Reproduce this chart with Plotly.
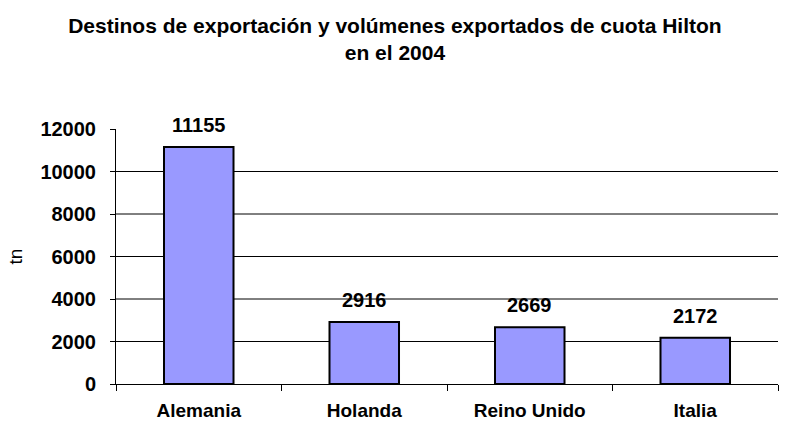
import plotly.graph_objects as go

categories = ["Alemania", "Holanda", "Reino Unido", "Italia"]
values = [11155, 2916, 2669, 2172]
y_ticks = [0, 2000, 4000, 6000, 8000, 10000, 12000]
y_tick_labels = ["0", "2000", "4000", "6000", "8000", "10000", "12000"]
grid_values = [2000, 4000, 6000, 8000, 10000]

FONT = "Arial, Liberation Sans, sans-serif"

fig = go.Figure()
fig.add_trace(go.Bar(
    x=categories, y=values,
    marker=dict(color="#9999FF", line=dict(color="black", width=2)),
    width=0.42,
))

for c, v in zip(categories, values):
    fig.add_annotation(x=c, y=v, text=f"<b>{v}</b>", showarrow=False,
                       yanchor="bottom", yshift=9,
                       font=dict(family=FONT, size=20, color="black"))

shapes = []
for g in grid_values:
    shapes.append(dict(type="line", xref="paper", yref="y", x0=0, x1=1, y0=g, y1=g,
                       line=dict(color="black", width=1), layer="below"))

fig.update_layout(
    width=793, height=423,
    margin=dict(l=116, r=15, t=129, b=39, autoexpand=False),
    paper_bgcolor="white", plot_bgcolor="white",
    showlegend=False,
    shapes=shapes,
    title=dict(
        text="<b>Destinos de exportación y volúmenes exportados de cuota Hilton<br>en el 2004</b>",
        x=0.498, xanchor="center", y=0.923, yanchor="top", yref="container",
        font=dict(family=FONT, size=21, color="black"),
    ),
    xaxis=dict(
        automargin=False,
        showline=True, linecolor="black", linewidth=1,
        ticks="outside", tickson="boundaries", ticklen=6, tickcolor="black",
        tickfont=dict(family=FONT, size=19, color="black", weight="bold"),
        ticklabelstandoff=9,
        showgrid=False,
    ),
    yaxis=dict(
        automargin=False,
        range=[0, 12000], tickvals=y_ticks, ticktext=y_tick_labels,
        showline=True, linecolor="black", linewidth=1,
        ticks="outside", ticklen=5, tickcolor="black",
        tickfont=dict(family=FONT, size=20, color="black", weight="bold"),
        ticklabelstandoff=10,
        showgrid=False, zeroline=False,
        title=dict(text="tn", font=dict(family=FONT, size=19, color="black"), standoff=12),
    ),
)

fig.write_html("out.html", config={"displayModeBar": False},
               post_script="document.body.style.margin='0';document.body.style.overflow='hidden';")
